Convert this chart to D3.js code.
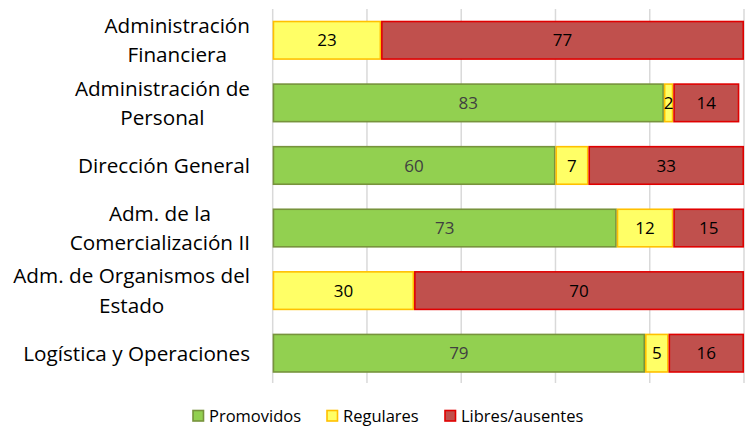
<!DOCTYPE html>
<html>
<head>
<meta charset="utf-8">
<script src="https://cdn.jsdelivr.net/npm/d3@7"></script>
<style>
  body { margin: 0; background: #fff; }
  svg { font-family: "Open Sans", "Noto Sans", sans-serif; }
</style>
</head>
<body>
<div id="chart"></div>
<script>
// data
const categories = [
  ['Administración', 'Financiera'],
  ['Administración de', 'Personal'],
  ['Dirección General'],
  ['Adm. de la', 'Comercialización II'],
  ['Adm. de Organismos del', 'Estado'],
  ['Logística y Operaciones']
];
const seriesNames = ['Promovidos', 'Regulares', 'Libres/ausentes'];
const promovidos = [0, 83, 60, 73, 0, 79];
const regulares = [23, 2, 7, 12, 30, 5];
const libres = [77, 14, 33, 15, 70, 16];
const xTicks = [0, 20, 40, 60, 80, 100];

const W = 745, H = 426;
const fills = ['#92D050', '#FFFF66', '#C0504D'];
const strokes = ['#77933C', '#FFC000', '#E00000'];
const labelColors = ['#404040', '#000', '#000'];

const rows = categories.map((c, i) => ({
  key: i, lines: c,
  Promovidos: promovidos[i], Regulares: regulares[i], 'Libres/ausentes': libres[i]
}));

const svg = d3.select('#chart').append('svg')
  .attr('width', W).attr('height', H);

const x = d3.scaleLinear().domain([0, 100]).range([272.7, 744]);
const y = d3.scaleBand().domain(rows.map(d => d.key)).range([9, 384.5]).paddingInner(0.4).paddingOuter(0.2);

// gridlines
svg.append('g').selectAll('line').data(xTicks).enter().append('line')
  .attr('x1', d => x(d)).attr('x2', d => x(d))
  .attr('y1', 9).attr('y2', 383)
  .attr('stroke', '#d9d9d9').attr('stroke-width', 1.5);

const stacked = d3.stack().keys(seriesNames)(rows);

const layer = svg.append('g').selectAll('g').data(stacked).enter().append('g');

layer.selectAll('rect').data((s, si) => s.map(d => ({ d, si })).filter(o => o.d[1] - o.d[0] > 0))
  .enter().append('rect')
  .attr('x', o => x(o.d[0]) + 0.75)
  .attr('y', o => y(o.d.data.key))
  .attr('width', o => x(o.d[1]) - x(o.d[0]) - 1.5)
  .attr('height', y.bandwidth())
  .attr('fill', o => fills[o.si])
  .attr('stroke', o => strokes[o.si])
  .attr('stroke-width', 1.6);

layer.selectAll('text').data((s, si) => s.map(d => ({ d, si })).filter(o => o.d[1] - o.d[0] > 0))
  .enter().append('text')
  .attr('x', o => (x(o.d[0]) + x(o.d[1])) / 2)
  .attr('y', o => y(o.d.data.key) + y.bandwidth() / 2)
  .attr('dy', '0.36em')
  .attr('text-anchor', 'middle')
  .attr('font-size', 17)
  .attr('fill', o => labelColors[o.si])
  .text(o => o.d[1] - o.d[0]);

// category labels: block right-aligned, lines centred
const labG = svg.append('g');
rows.forEach(r => {
  const cy = y(r.key) + y.bandwidth() / 2;
  const lh = 29.5;
  const g = labG.append('g');
  const texts = r.lines.map((ln, j) => g.append('text')
    .attr('y', cy + (j - (r.lines.length - 1) / 2) * lh)
    .attr('dy', '0.36em')
    .attr('text-anchor', 'middle')
    .attr('font-size', 20.7)
    .attr('fill', '#000')
    .text(ln));
  const maxW = d3.max(texts, t => t.node().getComputedTextLength());
  texts.forEach(t => t.attr('x', 250 - maxW / 2));
});

// legend
const legX = [193, 327, 445];
const leg = svg.append('g').selectAll('g').data(seriesNames).enter().append('g')
  .attr('transform', (d, i) => `translate(${legX[i]},410.5)`);
leg.append('rect').attr('width', 10.5).attr('height', 10.5)
  .attr('fill', (d, i) => fills[i]).attr('stroke', (d, i) => strokes[i]).attr('stroke-width', 1.6);
leg.append('text').attr('x', 16).attr('y', 5.5).attr('dy', '0.36em')
  .attr('font-size', 16.5).attr('fill', '#000').text(d => d);
</script>
</body>
</html>
